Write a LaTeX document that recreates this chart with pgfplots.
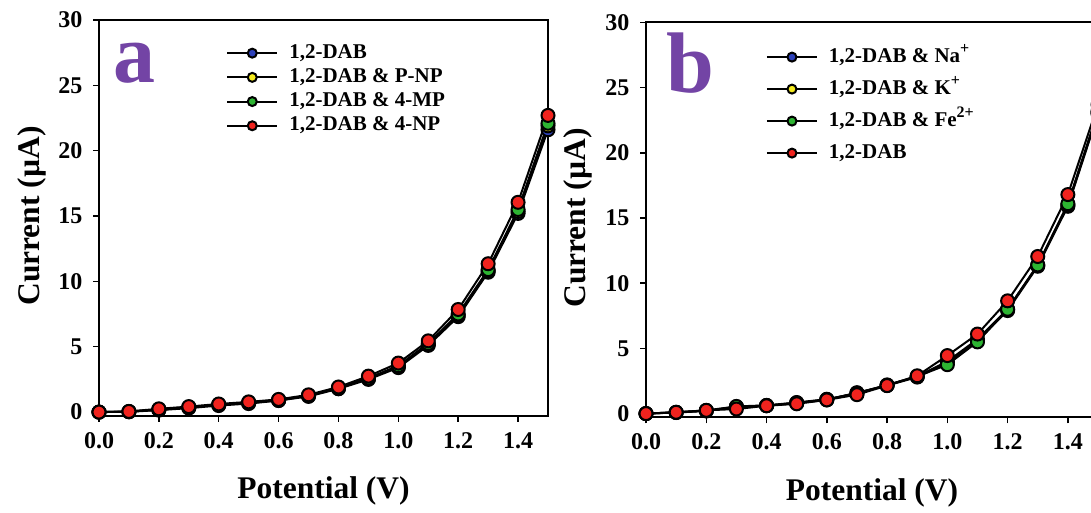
\documentclass[border=0pt]{standalone}
\usepackage{fontspec}
\setmainfont{Liberation Serif}
\usepackage{pgfplots}
\pgfplotsset{compat=1.18}
\usepackage{pgfplotstable}
\definecolor{mblue}{RGB}{45,65,185}
\definecolor{myellow}{RGB}{245,235,30}
\definecolor{mgreen}{RGB}{45,180,50}
\definecolor{mred}{RGB}{240,35,30}
\definecolor{apurple}{RGB}{115,68,165}
\newcommand{\sups}[1]{\raisebox{0.42em}{\fontsize{16}{16}\selectfont #1}}

\pgfplotstableread{
x a1 a2 a3 a4
0.0 0 0 0 0
0.1 0.02 0.03 0.04 0.05
0.2 0.15 0.18 0.20 0.25
0.3 0.30 0.35 0.38 0.42
0.4 0.50 0.55 0.58 0.62
0.5 0.65 0.70 0.72 0.78
0.6 0.88 0.90 0.93 0.97
0.7 1.20 1.24 1.27 1.32
0.8 1.78 1.82 1.86 1.92
0.9 2.50 2.55 2.60 2.75
1.0 3.40 3.48 3.55 3.75
1.1 5.10 5.18 5.25 5.45
1.2 7.30 7.40 7.50 7.85
1.3 10.70 10.80 10.90 11.35
1.4 15.20 15.35 15.50 16.05
1.5 21.60 21.90 22.10 22.70
}\tabA

\pgfplotstableread{
x b1 b2 b3 b4
0.0 0 0 0 0
0.1 0.08 0.09 0.10 0.10
0.2 0.20 0.22 0.24 0.25
0.3 0.50 0.52 0.55 0.35
0.4 0.60 0.62 0.63 0.60
0.5 0.80 0.82 0.85 0.75
0.6 1.05 1.08 1.10 1.05
0.7 1.60 1.58 1.55 1.45
0.8 2.15 2.17 2.20 2.15
0.9 2.80 2.85 2.85 2.90
1.0 3.90 4.00 3.75 4.45
1.1 5.60 5.70 5.50 6.10
1.2 7.90 8.00 8.00 8.65
1.3 11.30 11.40 11.40 12.05
1.4 15.90 16.00 16.10 16.80
1.5 23.00 23.10 23.20 23.70
}\tabB

\pgfplotsset{
  panel/.style={
    scale only axis,
    xmin=0, xmax=1.5, ymin=-0.3, ymax=30,
    xtick={0,0.2,0.4,0.6,0.8,1.0,1.2,1.4},
    ytick={0,5,10,15,20,25,30},
    axis line style={line width=2pt},
    every tick/.style={black, line width=1.5pt},
    major tick length=6pt,
    tick align=outside,
    tick pos=left,
    /pgf/number format/assume math mode=true,
    xticklabel style={/pgf/number format/.cd, fixed, fixed zerofill, precision=1, /tikz/.cd,
      font=\bfseries\fontsize{24}{24}\selectfont, yshift=-7pt},
    yticklabel style={font=\bfseries\fontsize{24}{24}\selectfont, xshift=-7pt},
    xlabel={Potential (V)},
    ylabel={Current (µA)},
    label style={font=\bfseries\fontsize{31.5}{31.5}\selectfont},
    xlabel style={at={(axis description cs:0.5,-0.19)}, anchor=center},
    ylabel style={at={(axis description cs:-0.15,0.505)}, anchor=center},
    legend cell align=left,
    legend image code/.code={\draw[mark repeat=2,mark phase=2,##1,mark size=4.5pt] plot coordinates {(0pt,0pt) (25pt,0pt) (50pt,0pt)};},
    every axis plot/.append style={line width=2pt, black, mark=*, mark size=6.5pt},
  },
  mk/.style={mark options={draw=black, line width=2pt, fill=#1}},
}

\begin{document}
\begin{tikzpicture}
\begin{axis}[panel, at={(99pt,97pt)}, anchor=south west, width=449pt, height=396pt,
  legend style={draw=none, fill=none, inner sep=0pt,
    at={(axis description cs:0.283,0.942)}, anchor=north west,
    font=\bfseries\fontsize{21}{21}\selectfont,
    nodes={text height=14pt, text depth=4pt, inner sep=1pt},
    /tikz/every odd column/.append style={column sep=10pt},
    row sep=4.2pt}]
\addplot[mk=mblue] table[x=x,y=a1] {\tabA};
\addlegendentry{1,2-DAB}
\addplot[mk=myellow] table[x=x,y=a2] {\tabA};
\addlegendentry{1,2-DAB \& P-NP}
\addplot[mk=mgreen] table[x=x,y=a3] {\tabA};
\addlegendentry{1,2-DAB \& 4-MP}
\addplot[mk=mred] table[x=x,y=a4] {\tabA};
\addlegendentry{1,2-DAB \& 4-NP}
\node[anchor=base west, inner sep=0pt, text=apurple, font=\bfseries\fontsize{84}{84}\selectfont] at (axis description cs:0.031,0.843) {a};
\end{axis}

\begin{axis}[panel, at={(646pt,95.5pt)}, anchor=south west, width=452pt, height=395pt,
  legend style={draw=none, fill=none, inner sep=0pt,
    at={(axis description cs:0.265,0.942)}, anchor=north west,
    font=\bfseries\fontsize{21}{21}\selectfont,
    nodes={text height=16pt, text depth=5pt, inner sep=1pt},
    /tikz/every odd column/.append style={column sep=10pt},
    row sep=9pt}]
\addplot[mk=mblue] table[x=x,y=b1] {\tabB};
\addlegendentry{1,2-DAB \& Na\sups{+}}
\addplot[mk=myellow] table[x=x,y=b2] {\tabB};
\addlegendentry{1,2-DAB \& K\sups{+}}
\addplot[mk=mgreen] table[x=x,y=b3] {\tabB};
\addlegendentry{1,2-DAB \& Fe\sups{2+}}
\addplot[mk=mred] table[x=x,y=b4] {\tabB};
\addlegendentry{1,2-DAB}
\node[anchor=base west, inner sep=0pt, text=apurple, font=\bfseries\fontsize{86}{86}\selectfont] at (axis description cs:0.044,0.822) {b};
\end{axis}
\pgfresetboundingbox
\useasboundingbox (0pt,0pt) rectangle (1091pt,513pt);
\end{tikzpicture}
\end{document}
